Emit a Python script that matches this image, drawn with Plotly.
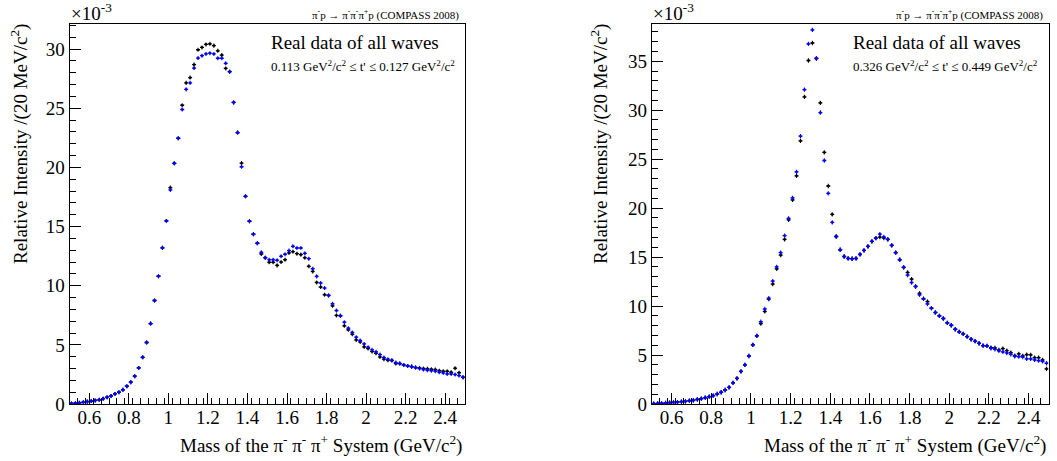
import plotly.graph_objects as go

# ---------------- data ----------------
mass = [round(0.51 + 0.02 * i, 2) for i in range(100)]  # 20 MeV bin centres (GeV/c^2)

left_black = [0.05, 0.07, 0.10, 0.15, 0.20, 0.25, 0.30, 0.35, 0.45, 0.58,
              0.68, 0.85, 1.00, 1.20, 1.50, 1.85, 2.35, 3.05, 3.95, 5.20,
              6.80, 8.75, 10.80, 13.20, 15.48, 18.30, 20.35, 22.47, 25.26, 27.15,
              27.60, 28.70, 29.95, 30.15, 30.40, 30.45, 30.30, 29.86, 29.50, 28.37,
              28.10, 25.50, 22.95, 20.37, 17.56, 15.45, 14.35, 13.59, 12.68, 12.37,
              11.98, 11.98, 11.72, 12.00, 12.20, 12.77, 12.88, 12.71, 12.63, 12.37,
              11.64, 11.21, 10.28, 9.89, 9.24, 9.18, 8.30, 7.49, 7.46, 6.61,
              6.27, 5.90, 5.42, 5.25, 4.83, 4.69, 4.44, 4.29, 3.98, 3.79,
              3.70, 3.67, 3.42, 3.42, 3.30, 3.22, 3.16, 3.08, 3.05, 3.00,
              2.97, 2.94, 2.91, 2.82, 2.77, 2.77, 2.68, 3.02, 2.65, 2.26]

left_blue = [0.05, 0.07, 0.10, 0.15, 0.20, 0.25, 0.30, 0.35, 0.45, 0.58,
             0.68, 0.85, 1.00, 1.20, 1.50, 1.85, 2.35, 3.05, 3.95, 5.20,
             6.80, 8.75, 10.80, 13.20, 15.48, 18.10, 20.35, 22.47, 24.90, 26.60,
             27.15, 28.40, 29.25, 29.45, 29.60, 29.66, 29.60, 29.23, 29.23, 28.80,
             28.10, 25.50, 22.95, 20.06, 17.56, 15.45, 14.35, 13.59, 12.82, 12.37,
             12.20, 12.20, 12.15, 12.49, 12.66, 12.97, 13.33, 13.19, 13.19, 12.74,
             12.29, 11.44, 10.79, 10.23, 9.80, 9.18, 8.47, 7.90, 7.46, 6.92,
             6.41, 6.05, 5.65, 5.37, 5.08, 4.80, 4.58, 4.41, 4.18, 3.93,
             3.79, 3.70, 3.50, 3.42, 3.30, 3.22, 3.16, 3.08, 2.99, 2.91,
             2.85, 2.82, 2.77, 2.68, 2.63, 2.54, 2.54, 2.49, 2.40, 2.26]

right_black = [0.03, 0.05, 0.07, 0.10, 0.14, 0.17, 0.20, 0.24, 0.27, 0.34,
               0.38, 0.48, 0.55, 0.65, 0.75, 0.85, 1.02, 1.20, 1.43, 1.70,
               2.15, 2.62, 3.34, 3.99, 4.90, 6.03, 6.95, 8.20, 9.45, 10.70,
               12.25, 13.80, 15.20, 16.80, 18.80, 20.84, 23.30, 26.86, 31.35, 35.07,
               36.86, 35.27, 30.74, 25.70, 22.26, 19.36, 17.10, 15.75, 15.06, 14.86,
               14.83, 14.86, 15.27, 15.68, 16.09, 16.60, 16.94, 17.04, 16.95, 16.80,
               16.20, 15.45, 14.73, 13.95, 13.43, 12.75, 12.00, 11.30, 10.74, 10.46,
               9.78, 9.34, 9.00, 8.73, 8.28, 8.04, 7.63, 7.36, 7.16, 6.88,
               6.61, 6.41, 6.20, 5.96, 5.93, 5.76, 5.73, 5.52, 5.66, 5.45,
               5.25, 4.94, 5.11, 4.91, 5.04, 5.01, 4.74, 4.74, 4.50, 3.58]

right_blue = [0.03, 0.05, 0.07, 0.10, 0.14, 0.17, 0.20, 0.24, 0.27, 0.34,
              0.38, 0.48, 0.55, 0.65, 0.75, 0.85, 1.02, 1.20, 1.43, 1.70,
              2.15, 2.62, 3.34, 3.99, 4.90, 6.03, 6.95, 8.40, 9.70, 10.80,
              12.55, 14.00, 15.45, 17.20, 18.95, 21.05, 23.70, 27.36, 32.10, 36.76,
              38.20, 35.30, 29.76, 24.86, 21.50, 18.55, 17.10, 15.75, 15.06, 14.86,
              14.83, 14.86, 15.27, 15.68, 16.09, 16.60, 16.94, 17.35, 17.05, 16.80,
              16.20, 15.45, 14.73, 13.95, 13.16, 12.40, 12.00, 11.15, 10.74, 10.22,
              9.78, 9.34, 9.00, 8.73, 8.28, 8.04, 7.63, 7.36, 7.16, 6.88,
              6.61, 6.41, 6.20, 5.96, 5.93, 5.69, 5.59, 5.42, 5.32, 5.21,
              5.08, 4.87, 4.84, 4.80, 4.60, 4.60, 4.50, 4.43, 4.36, 4.16]

x_ticks = [0.6, 0.8, 1.0, 1.2, 1.4, 1.6, 1.8, 2.0, 2.2, 2.4]
x_tick_labels = ["0.6", "0.8", "1", "1.2", "1.4", "1.6", "1.8", "2", "2.2", "2.4"]
left_y_ticks = [0, 5, 10, 15, 20, 25, 30]
right_y_ticks = [0, 5, 10, 15, 20, 25, 30, 35]

left_trange = "0.113 GeV<sup>2</sup>/c<sup>2</sup> \u2264 t' \u2264 0.127 GeV<sup>2</sup>/c<sup>2</sup>"
right_trange = "0.326 GeV<sup>2</sup>/c<sup>2</sup> \u2264 t' \u2264 0.449 GeV<sup>2</sup>/c<sup>2</sup>"
reaction = "\u03c0<sup>-</sup>p \u2192 \u03c0<sup>-</sup>\u03c0<sup>-</sup>\u03c0<sup>+</sup>p (COMPASS 2008)"
x_title = "Mass of the \u03c0<sup>-</sup> \u03c0<sup>-</sup> \u03c0<sup>+</sup> System (GeV/c<sup>2</sup>)"
y_title = "Relative Intensity /(20 MeV/c<sup>2</sup>)"

# ---------------- layout helpers ----------------
W, H = 1057, 461
FONT = "Liberation Serif"


def px(x):
    return x / W


def py(y):
    return 1 - y / H


fig = go.Figure()


def add_series(y, color, xa, ya, err):
    fig.add_trace(go.Scatter(
        x=mass, y=y, mode="markers", xaxis=xa, yaxis=ya, showlegend=False,
        marker=dict(symbol="square", size=2.2, color=color, line=dict(width=0)),
        error_x=dict(type="constant", value=0.01, color=color, thickness=1.3, width=0),
        error_y=dict(type="constant", value=err, color=color, thickness=1.1, width=0),
    ))


add_series(left_black, "#000000", "x", "y", 0.17)
add_series(left_blue, "#0000ff", "x", "y", 0.17)
add_series(right_black, "#000000", "x2", "y2", 0.22)
add_series(right_blue, "#0000ff", "x2", "y2", 0.22)

ydom = [py(404), py(23.5)]
common_x = dict(
    range=[0.5, 2.5], tickmode="array", tickvals=x_ticks, ticktext=x_tick_labels,
    ticks="inside", ticklen=11, tickwidth=1, tickcolor="#000",
    minor=dict(dtick=0.04, tick0=0.5, ticks="inside", ticklen=6, tickcolor="#000", tickwidth=1),
    showline=True, mirror=True, linecolor="#000", linewidth=1,
    showgrid=False, zeroline=False, automargin=False,
    tickfont=dict(family=FONT, size=19, color="#000"),
    ticklabelstandoff=-4,
)
common_y = dict(
    ticks="inside", ticklen=11, tickwidth=1, tickcolor="#000",
    minor=dict(dtick=1, tick0=0, ticks="inside", ticklen=6, tickcolor="#000", tickwidth=1),
    showline=True, mirror=True, linecolor="#000", linewidth=1,
    showgrid=False, zeroline=False, automargin=False,
    tickfont=dict(family=FONT, size=19, color="#000"),
    ticklabelstandoff=0, tickmode="array",
)

fig.update_layout(
    width=W, height=H, margin=dict(l=0, r=0, t=0, b=0),
    paper_bgcolor="white", plot_bgcolor="white",
    font=dict(family=FONT, color="#000"),
    xaxis=dict(domain=[px(69.5), px(465)], anchor="y", **common_x),
    yaxis=dict(domain=ydom, anchor="x", range=[0, 32.17], tickvals=left_y_ticks, **common_y),
    xaxis2=dict(domain=[px(651.7), px(1048.5)], anchor="y2", **common_x),
    yaxis2=dict(domain=ydom, anchor="x2", range=[0, 38.85], tickvals=right_y_ticks, **common_y),
)

ann = []


def panel_text(x0, x1, ytitle_x, trange):
    ann.extend([
        dict(text="\u00d710<sup>-3</sup>", x=px(x0 - 1), y=py(26), xanchor="left", yanchor="bottom",
             font=dict(size=19)),
        dict(text=reaction, x=px(x1 - 3), y=py(15), xanchor="right", yanchor="middle",
             font=dict(size=11)),
        dict(text="Real data of all waves", x=px(x0 + 199), y=py(42), xanchor="left", yanchor="middle",
             font=dict(size=19)),
        dict(text=trange, x=px(x0 + 199), y=py(66), xanchor="left", yanchor="middle",
             font=dict(size=13)),
        dict(text=x_title, x=px(x1), y=py(444), xanchor="right", yanchor="middle",
             font=dict(size=19)),
        dict(text=y_title, x=px(ytitle_x), y=py(22), xanchor="center", yanchor="top",
             textangle=-90, font=dict(size=19)),
    ])


panel_text(69.5, 464, 19, left_trange)
panel_text(651.7, 1048, 599, right_trange)

for a in ann:
    a.update(xref="paper", yref="paper", showarrow=False)
    a["font"].update(family=FONT, color="#000")
fig.update_layout(annotations=ann)

fig.write_html(
    "out.html",
    config={"displayModeBar": False},
    post_script="document.body.style.margin='0';document.body.style.padding='0';",
)
